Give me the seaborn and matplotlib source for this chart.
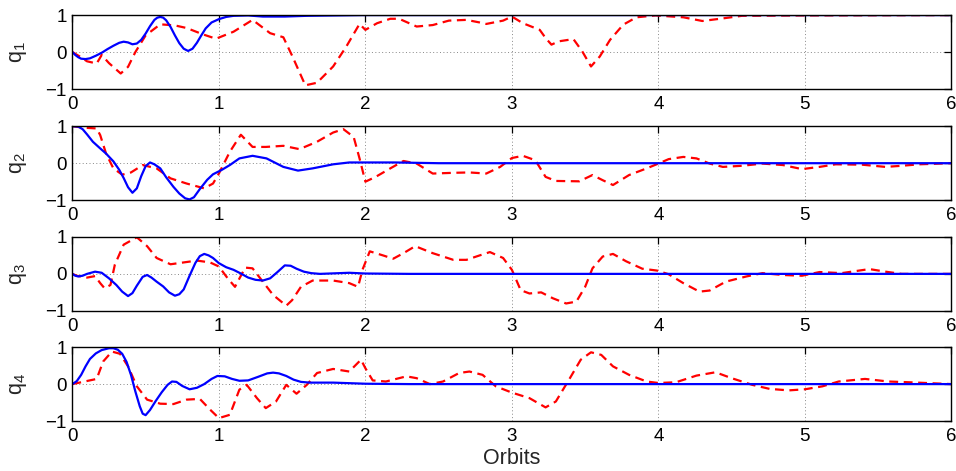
import numpy as np
import pandas as pd
import matplotlib
matplotlib.use("Agg")
import matplotlib.pyplot as plt
import seaborn as sns

# ---------------- data ----------------
q1_blue_x = [0, 0.02, 0.04, 0.06, 0.09, 0.12, 0.16, 0.2, 0.24, 0.28, 0.32, 0.35, 0.38, 0.41, 0.44, 0.47,
             0.5, 0.53, 0.56, 0.58, 0.6, 0.62, 0.64, 0.67, 0.7, 0.73, 0.76, 0.79, 0.82, 0.85, 0.88,
             0.91, 0.95, 1.0, 1.05, 1.1, 1.2, 1.3, 1.45, 1.6, 1.8, 2.0, 6.0]
q1_blue_y = [0, -0.08, -0.14, -0.18, -0.19, -0.17, -0.1, -0.02, 0.08, 0.17, 0.25, 0.28, 0.26, 0.21, 0.23, 0.33,
             0.5, 0.7, 0.87, 0.93, 0.95, 0.93, 0.86, 0.68, 0.45, 0.24, 0.09, 0.03, 0.09, 0.25, 0.45,
             0.64, 0.8, 0.89, 0.95, 0.98, 0.99, 0.96, 0.96, 0.98, 0.99, 1.0, 1.0]
q1_red_x = [0, 0.05, 0.1, 0.166, 0.2, 0.25, 0.33, 0.38, 0.43, 0.5, 0.6, 0.7, 0.78, 0.89, 0.98, 1.1,
            1.23, 1.35, 1.44, 1.5, 1.59, 1.67, 1.78, 1.87, 1.96, 2.0, 2.08, 2.17, 2.23, 2.35, 2.46,
            2.57, 2.69, 2.78, 2.825, 2.94, 3.0, 3.075, 3.19, 3.23, 3.27, 3.32, 3.42, 3.48, 3.54,
            3.6, 3.67, 3.76, 3.85, 3.98, 4.17, 4.3, 4.44, 4.57, 5.0, 6.0]
q1_red_y = [0, -0.12, -0.25, -0.31, -0.08, -0.3, -0.58, -0.4, 0.0, 0.45, 0.75, 0.72, 0.65, 0.48, 0.36, 0.55,
            0.87, 0.51, 0.4, -0.1, -0.9, -0.83, -0.39, 0.15, 0.76, 0.6, 0.78, 0.9, 0.9, 0.69, 0.73,
            0.85, 0.87, 0.8, 0.76, 0.85, 0.96, 0.78, 0.6, 0.38, 0.2, 0.29, 0.35, 0.02, -0.39,
            -0.12, 0.33, 0.74, 0.94, 0.99, 0.94, 0.84, 0.91, 0.98, 0.99, 1.0]

q2_blue_x = [0, 0.04, 0.07, 0.1, 0.14, 0.19, 0.23, 0.28, 0.32, 0.35, 0.38, 0.41, 0.44, 0.47, 0.5, 0.53,
             0.56, 0.6, 0.64, 0.69, 0.73, 0.77, 0.8, 0.83, 0.87, 0.92, 0.96, 1.02, 1.075, 1.14, 1.23,
             1.325, 1.44, 1.54, 1.64, 1.78, 1.89, 2.2, 2.5, 6.0]
q2_blue_y = [1.0, 0.99, 0.92, 0.78, 0.58, 0.4, 0.26, 0.05, -0.18, -0.4, -0.65, -0.8, -0.68, -0.35, -0.08, 0.02,
             -0.03, -0.14, -0.38, -0.64, -0.82, -0.95, -0.98, -0.92, -0.7, -0.45, -0.3, -0.18, -0.05, 0.13, 0.2,
             0.13, -0.1, -0.2, -0.14, -0.03, 0.02, 0.02, 0.0, 0.0]
q2_red_x = [0, 0.08, 0.166, 0.19, 0.23, 0.28, 0.34, 0.4, 0.48, 0.575, 0.67, 0.78, 0.9, 0.96, 1.0,
            1.075, 1.15, 1.23, 1.32, 1.44, 1.55, 1.67, 1.78, 1.85, 1.92, 1.96, 2.0, 2.07, 2.17,
            2.26, 2.35, 2.46, 2.6, 2.71, 2.825, 2.92, 3.0, 3.075, 3.16, 3.23, 3.3, 3.46, 3.55,
            3.62, 3.69, 3.8, 3.92, 4.0, 4.07, 4.17, 4.26, 4.35, 4.44, 4.57, 4.71, 4.85, 4.98,
            5.1, 5.21, 5.39, 5.55, 5.66, 5.78, 6.0]
q2_red_y = [1.0, 0.96, 0.94, 0.76, 0.26, -0.14, -0.31, -0.25, -0.05, -0.14, -0.41, -0.55, -0.68, -0.55, -0.28,
            0.31, 0.77, 0.44, 0.44, 0.47, 0.38, 0.58, 0.83, 0.92, 0.71, 0.13, -0.5, -0.37, -0.14,
            0.06, -0.01, -0.28, -0.26, -0.25, -0.28, -0.1, 0.14, 0.2, 0.08, -0.37, -0.48, -0.49, -0.32,
            -0.46, -0.59, -0.32, -0.14, -0.01, 0.11, 0.17, 0.13, -0.01, -0.1, -0.07, -0.01, -0.05, -0.16,
            -0.1, -0.03, -0.04, -0.1, -0.07, -0.03, 0.0]

q3_blue_x = [0, 0.02, 0.04, 0.07, 0.1, 0.155, 0.2, 0.25, 0.3, 0.34, 0.38, 0.41, 0.44, 0.48, 0.51, 0.54,
             0.575, 0.62, 0.66, 0.7, 0.73, 0.76, 0.8, 0.84, 0.87, 0.9, 0.93, 0.96, 1.0, 1.05, 1.1,
             1.15, 1.2, 1.25, 1.3, 1.35, 1.4, 1.45, 1.49, 1.53, 1.58, 1.63, 1.69, 1.89, 2.0, 2.3, 6.0]
q3_blue_y = [0, -0.05, -0.07, -0.05, 0.0, 0.06, 0.03, -0.12, -0.3, -0.48, -0.6, -0.52, -0.32, -0.08, -0.03, -0.1,
             -0.21, -0.34, -0.5, -0.59, -0.55, -0.42, -0.05, 0.3, 0.48, 0.54, 0.5, 0.43, 0.29, 0.18, 0.11,
             0.01, -0.1, -0.16, -0.18, -0.12, 0.05, 0.23, 0.22, 0.14, 0.06, 0.02, 0.0, 0.03, 0.01, 0.0, 0.0]
q3_red_x = [0, 0.03, 0.1, 0.155, 0.19, 0.22, 0.26, 0.29, 0.35, 0.44, 0.51, 0.575, 0.67, 0.76, 0.85,
            0.94, 1.0, 1.06, 1.11, 1.18, 1.23, 1.3, 1.37, 1.46, 1.5, 1.56, 1.64, 1.78, 1.89, 1.95,
            1.98, 2.03, 2.12, 2.19, 2.26, 2.34, 2.46, 2.6, 2.69, 2.78, 2.85, 2.94, 3.0, 3.06, 3.12,
            3.2, 3.28, 3.37, 3.44, 3.5, 3.55, 3.62, 3.69, 3.78, 3.89, 3.99, 4.07, 4.17, 4.28, 4.35,
            4.46, 4.6, 4.71, 4.85, 4.98, 5.1, 5.25, 5.44, 5.55, 5.66, 6.0]
q3_red_y = [0, -0.05, -0.1, -0.06, -0.25, -0.39, -0.3, 0.25, 0.79, 0.99, 0.75, 0.43, 0.26, 0.31, 0.36,
            0.31, 0.2, -0.12, -0.35, 0.17, 0.15, -0.21, -0.57, -0.86, -0.71, -0.35, -0.18, -0.18, -0.25, -0.35,
            0.11, 0.61, 0.5, 0.41, 0.56, 0.75, 0.56, 0.38, 0.38, 0.5, 0.59, 0.43, 0.11, -0.44, -0.53,
            -0.5, -0.66, -0.8, -0.75, -0.35, 0.15, 0.47, 0.54, 0.34, 0.14, 0.09, -0.01, -0.25, -0.48, -0.45,
            -0.21, -0.07, 0.02, -0.03, -0.05, 0.05, 0.02, 0.13, 0.06, 0.0, 0.0]

q4_blue_x = [0, 0.03, 0.06, 0.09, 0.12, 0.16, 0.2, 0.25, 0.28, 0.31, 0.34, 0.37, 0.4, 0.43, 0.46, 0.48,
             0.5, 0.53, 0.57, 0.61, 0.65, 0.68, 0.71, 0.75, 0.8, 0.85, 0.9, 0.95, 0.99, 1.04, 1.09,
             1.14, 1.2, 1.27, 1.33, 1.37, 1.41, 1.46, 1.51, 1.56, 1.62, 1.78, 2.0, 2.3, 6.0]
q4_blue_y = [0, 0.08, 0.25, 0.48, 0.68, 0.83, 0.92, 0.97, 0.97, 0.93, 0.82, 0.6, 0.25, -0.2, -0.6, -0.8,
             -0.84, -0.7, -0.45, -0.22, -0.02, 0.07, 0.06, -0.05, -0.14, -0.1, 0.0, 0.14, 0.22, 0.21, 0.14,
             0.09, 0.1, 0.2, 0.29, 0.31, 0.29, 0.22, 0.12, 0.06, 0.04, 0.04, 0.01, 0.0, 0.0]
q4_red_x = [0, 0.06, 0.166, 0.21, 0.27, 0.325, 0.38, 0.44, 0.51, 0.6, 0.69, 0.78, 0.87, 0.94, 1.0,
            1.075, 1.14, 1.19, 1.26, 1.32, 1.39, 1.46, 1.53, 1.6, 1.67, 1.78, 1.89, 1.97, 2.0,
            2.05, 2.14, 2.28, 2.35, 2.44, 2.53, 2.64, 2.71, 2.8, 2.89, 3.0, 3.12, 3.23, 3.3, 3.39,
            3.47, 3.54, 3.61, 3.69, 3.8, 3.92, 4.0, 4.12, 4.26, 4.39, 4.5, 4.64, 4.76, 4.89, 5.0,
            5.12, 5.23, 5.41, 5.57, 5.71, 6.0]
q4_red_y = [0, 0.05, 0.14, 0.61, 0.88, 0.82, 0.48, -0.06, -0.42, -0.53, -0.54, -0.42, -0.4, -0.69, -0.92,
            -0.83, -0.15, -0.02, -0.38, -0.65, -0.47, -0.02, -0.26, -0.02, 0.3, 0.41, 0.34, 0.66, 0.43,
            0.1, 0.07, 0.21, 0.16, 0.0, 0.07, 0.3, 0.34, 0.25, -0.06, -0.23, -0.38, -0.63, -0.47, 0.12,
            0.66, 0.86, 0.79, 0.48, 0.25, 0.07, 0.03, 0.05, 0.23, 0.32, 0.16, -0.02, -0.13, -0.17, -0.14,
            -0.06, 0.07, 0.14, 0.07, 0.05, 0.0]

y_labels = ["q$_1$", "q$_2$", "q$_3$", "q$_4$"]
x_ticks = [0, 1, 2, 3, 4, 5, 6]
y_ticks = [-1, 0, 1]
x_label = "Orbits"

series = [
    (q1_blue_x, q1_blue_y, q1_red_x, q1_red_y),
    (q2_blue_x, q2_blue_y, q2_red_x, q2_red_y),
    (q3_blue_x, q3_blue_y, q3_red_x, q3_red_y),
    (q4_blue_x, q4_blue_y, q4_red_x, q4_red_y),
]

# ---------------- style ----------------
sns.set_style("white")
plt.rcParams["font.family"] = ["Liberation Sans", "DejaVu Sans"]
plt.rcParams["mathtext.fontset"] = "custom"
plt.rcParams["mathtext.rm"] = "Liberation Sans"
plt.rcParams["mathtext.it"] = "Liberation Sans"
plt.rcParams["mathtext.default"] = "regular"

fig = plt.figure(figsize=(9.56, 4.71), dpi=100)
left, width, height = 0.0757, 0.9195, 0.157
bottoms = [0.811, 0.575, 0.340, 0.106]

for i, (bx, by, rx, ry) in enumerate(series):
    ax = fig.add_axes([left, bottoms[i], width, height])
    dfr = pd.DataFrame({"x": rx, "y": ry})
    dfb = pd.DataFrame({"x": bx, "y": by})
    sns.lineplot(data=dfr, x="x", y="y", ax=ax, color=(1, 0, 0), lw=1.6,
                 estimator=None, sort=False)
    ax.lines[-1].set_dashes((4, 2.5))
    sns.lineplot(data=dfb, x="x", y="y", ax=ax, color=(0, 0, 1), lw=1.6,
                 estimator=None, sort=False)
    ax.set_xlim(0, 6)
    ax.set_ylim(-1, 1)
    ax.set_xticks(x_ticks)
    ax.set_yticks(y_ticks)
    ax.set_xticklabels([str(t) for t in x_ticks])
    ax.set_yticklabels(["\u22121", "0", "1"])
    ax.grid(True, linestyle=(0, (1, 2.5)), color="#888888", lw=0.7)
    ax.tick_params(direction="in", top=True, right=True, length=5, width=0.9,
                   labelsize=13.5, colors="black")
    ax.tick_params(axis="x", pad=5)
    ax.tick_params(axis="y", pad=4)
    for s in ax.spines.values():
        s.set_color("black")
        s.set_linewidth(1.0)
        s.set_visible(True)
    ax.set_ylabel(y_labels[i], fontsize=15.5, labelpad=12)
    if i == 3:
        ax.set_xlabel(x_label, fontsize=15.5, labelpad=2)
    else:
        ax.set_xlabel("")

fig.savefig("out.png", dpi=100)
